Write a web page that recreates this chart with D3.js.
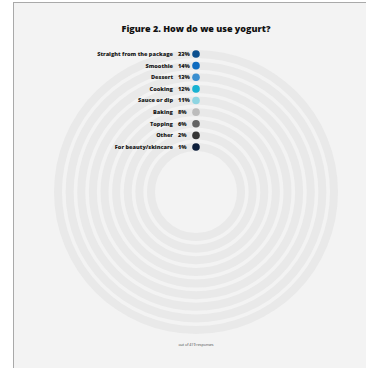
<!DOCTYPE html>
<html>
<head>
<meta charset="utf-8">
<script src="https://cdn.jsdelivr.net/npm/d3@7"></script>
<style>
  html, body { margin: 0; padding: 0; background: #ffffff; overflow: hidden; }
  svg { display: block; }
</style>
</head>
<body>
<svg id="chart" width="366" height="368"></svg>
<script>
// Survey answers: how people use yogurt (share of responses)
const categories = [
  "Straight from the package", "Smoothie", "Dessert", "Cooking",
  "Sauce or dip", "Baking", "Topping", "Other", "For beauty/skincare"
];
const shares = [33, 14, 13, 12, 11, 8, 6, 2, 1];
const colors = [
  "#0b4f8e", "#0f6cc0", "#3a8fd0", "#17b2d2",
  "#8ed5e2", "#bcbcbc", "#646464", "#353535", "#0e1f3c"
];
const title = "Figure 2. How do we use yogurt?";
const note = "out of 419 responses";

const svg = d3.select("#chart");
const W = 366, H = 368;
const font = "'Open Sans', sans-serif";

// framed panel
svg.append("rect").attr("x", 13).attr("y", 2).attr("width", W - 13).attr("height", H - 2)
  .attr("fill", "#f3f3f3");
svg.append("line").attr("x1", 13.5).attr("x2", 13.5).attr("y1", 2).attr("y2", H)
  .attr("stroke", "#a9a9a9").attr("stroke-width", 1);
svg.append("line").attr("x1", 13).attr("x2", W).attr("y1", 2.5).attr("y2", 2.5)
  .attr("stroke", "#a9a9a9").attr("stroke-width", 1);

const cx = 196, cy = 192;
const ringW = 8;

// one ring per category, outermost first
const r = d3.scalePoint().domain(categories).range([138, 45]);
const angle = d3.scaleLinear().domain([0, 100]).range([0, 2 * Math.PI]);

const g = svg.append("g").attr("transform", `translate(${cx},${cy})`);

const track = d3.arc()
  .innerRadius(d => r(d) - ringW / 2)
  .outerRadius(d => r(d) + ringW / 2)
  .startAngle(0).endAngle(2 * Math.PI);

g.selectAll("path.track").data(categories).join("path")
  .attr("class", "track")
  .attr("d", track)
  .attr("fill", "#e9e9e9");

const rows = categories.map((c, i) => ({ cat: c, value: shares[i], color: colors[i] }));

// value markers sit at the start of each ring
g.selectAll("circle.mark").data(rows).join("circle")
  .attr("class", "mark")
  .attr("cx", d => Math.sin(angle(0)) * r(d.cat))
  .attr("cy", d => -Math.cos(angle(0)) * r(d.cat))
  .attr("r", ringW / 2 - 0.2)
  .attr("fill", d => d.color);

g.selectAll("text.lab").data(rows).join("text")
  .attr("class", "lab")
  .attr("x", -23)
  .attr("y", d => -r(d.cat))
  .attr("dy", "0.35em")
  .attr("text-anchor", "end")
  .attr("font-family", font)
  .attr("font-weight", 800)
  .attr("font-size", 5.6)
  .attr("fill", "#1a1a1a")
  .text(d => d.cat);

g.selectAll("text.val").data(rows).join("text")
  .attr("class", "val")
  .attr("x", -18)
  .attr("y", d => -r(d.cat))
  .attr("dy", "0.35em")
  .attr("font-family", font)
  .attr("font-weight", 800)
  .attr("font-size", 5.6)
  .attr("fill", "#1a1a1a")
  .text(d => d.value + "%");

svg.append("text")
  .attr("x", 196).attr("y", 32)
  .attr("text-anchor", "middle")
  .attr("font-family", font)
  .attr("font-weight", 800)
  .attr("font-size", 9)
  .attr("fill", "#111")
  .text(title);

svg.append("text")
  .attr("x", 196).attr("y", 346)
  .attr("text-anchor", "middle")
  .attr("font-family", font)
  .attr("font-size", 3.6)
  .attr("fill", "#444")
  .text(note);
</script>
</body>
</html>
